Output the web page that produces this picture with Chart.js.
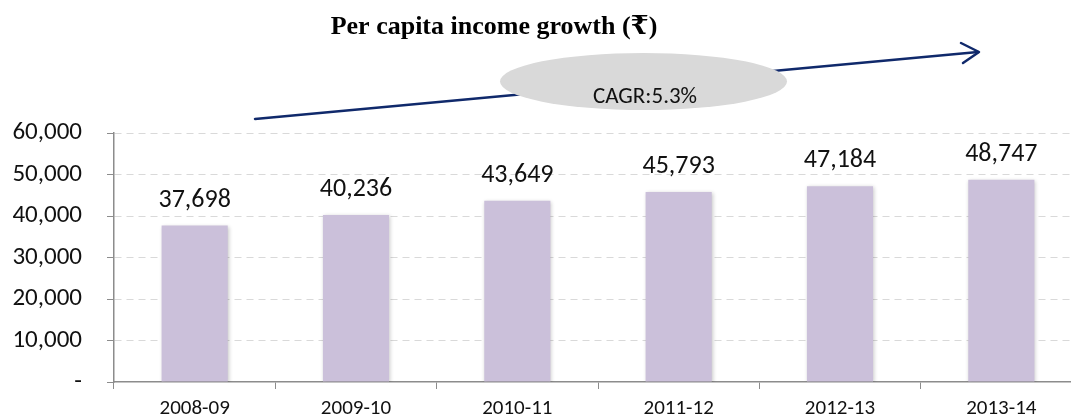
<!DOCTYPE html>
<html>
<head>
<meta charset="utf-8">
<script src="https://cdn.jsdelivr.net/npm/chart.js@4"></script>
<style>
html,body{margin:0;padding:0;background:#fff;overflow:hidden;}
#wrap{width:1085px;height:419px;position:relative;}
canvas{display:block;}
</style>
</head>
<body>
<div id="wrap"><canvas id="c" width="1085" height="419"></canvas></div>
<script>
const categories = ['2008-09','2009-10','2010-11','2011-12','2012-13','2013-14'];
const perCapitaIncome = [37698, 40236, 43649, 45793, 47184, 48747];
const yTicks = [0, 10000, 20000, 30000, 40000, 50000, 60000];
const titleText = 'Per capita income growth (\u20B9)';
const cagrText = 'CAGR:5.3%';

const FONT = 'Carlito, Calibri, "Open Sans", sans-serif';
const fmt = v => v === 0 ? '-' : v.toLocaleString('en-US');

const decoPlugin = {
  id: 'deco',
  beforeDatasetsDraw(chart) {
    const ctx = chart.ctx;
    ctx.save();
    ctx.shadowColor = 'rgba(0,0,0,0.22)';
    ctx.shadowBlur = 4;
    ctx.shadowOffsetX = 1;
    ctx.shadowOffsetY = 1;
  },
  afterDatasetsDraw(chart) {
    const ctx = chart.ctx;
    ctx.restore();
    const meta = chart.getDatasetMeta(0);
    ctx.save();
    ctx.font = '26px ' + FONT;
    ctx.fillStyle = '#111';
    ctx.textAlign = 'center';
    ctx.textBaseline = 'alphabetic';
    meta.data.forEach((bar, i) => {
      ctx.fillText(fmt(perCapitaIncome[i]), bar.x, bar.y - 19);
    });
    ctx.restore();
  },
  afterDraw(chart) {
    const ctx = chart.ctx;
    ctx.save();
    ctx.font = 'bold 26px "Liberation Serif", "DejaVu Serif", serif';
    ctx.fillStyle = '#000';
    ctx.textAlign = 'center';
    ctx.textBaseline = 'alphabetic';
    ctx.fillText(titleText, 494, 34);
    ctx.strokeStyle = '#10296B';
    ctx.lineWidth = 2.5;
    ctx.lineCap = 'round';
    ctx.lineJoin = 'round';
    ctx.beginPath();
    ctx.moveTo(255, 119);
    ctx.lineTo(978, 52);
    ctx.stroke();
    ctx.beginPath();
    ctx.moveTo(961, 43);
    ctx.lineTo(979, 52);
    ctx.lineTo(963, 63);
    ctx.stroke();
    ctx.fillStyle = '#D9D9D9';
    ctx.beginPath();
    ctx.ellipse(643.5, 81.5, 143.5, 28.5, 0, 0, Math.PI * 2);
    ctx.fill();
    ctx.fillStyle = '#111';
    ctx.font = '23px ' + FONT;
    ctx.fillText(cagrText, 645, 103);
    ctx.restore();
  }
};

new Chart(document.getElementById('c'), {
  type: 'bar',
  data: {
    labels: categories,
    datasets: [{
      data: perCapitaIncome,
      backgroundColor: '#CBC0DA',
      borderWidth: 0,
      barPercentage: 0.41,
      categoryPercentage: 1.0
    }]
  },
  options: {
    responsive: false,
    maintainAspectRatio: false,
    animation: false,
    devicePixelRatio: 1,
    layout: { padding: { top: 133, right: 3, bottom: 0, left: 0 } },
    plugins: { legend: { display: false }, tooltip: { enabled: false }, title: { display: false } },
    scales: {
      x: {
        afterFit(scale) { scale.height = 37; },
        grid: {
          display: true,
          offset: true,
          drawOnChartArea: false,
          drawTicks: true,
          tickLength: 7,
          tickColor: '#8C8C8C',
          color: '#8C8C8C'
        },
        border: { display: true, color: '#8C8C8C', width: 1.5 },
        ticks: {
          font: { family: FONT, size: 21 },
          color: '#111',
          padding: 7,
          maxRotation: 0
        }
      },
      y: {
        min: 0,
        max: 60000,
        afterBuildTicks(scale) { scale.ticks = yTicks.map(v => ({ value: v })); },
        afterFit(scale) { scale.width = 114; scale.paddingBottom = 0; scale.paddingTop = 0; },
        grid: {
          color: ctx => (ctx.tick && ctx.tick.value === 0) ? 'rgba(0,0,0,0)' : '#D9D9D9',
          tickColor: '#8C8C8C',
          tickLength: 7,
          lineWidth: 1
        },
        border: { display: true, color: '#8C8C8C', width: 1.5, dash: [7, 5] },
        ticks: {
          font: { family: FONT, size: 25 },
          color: '#111',
          padding: 25,
          callback: v => fmt(v)
        }
      }
    }
  },
  plugins: [decoPlugin]
});
</script>
</body>
</html>
